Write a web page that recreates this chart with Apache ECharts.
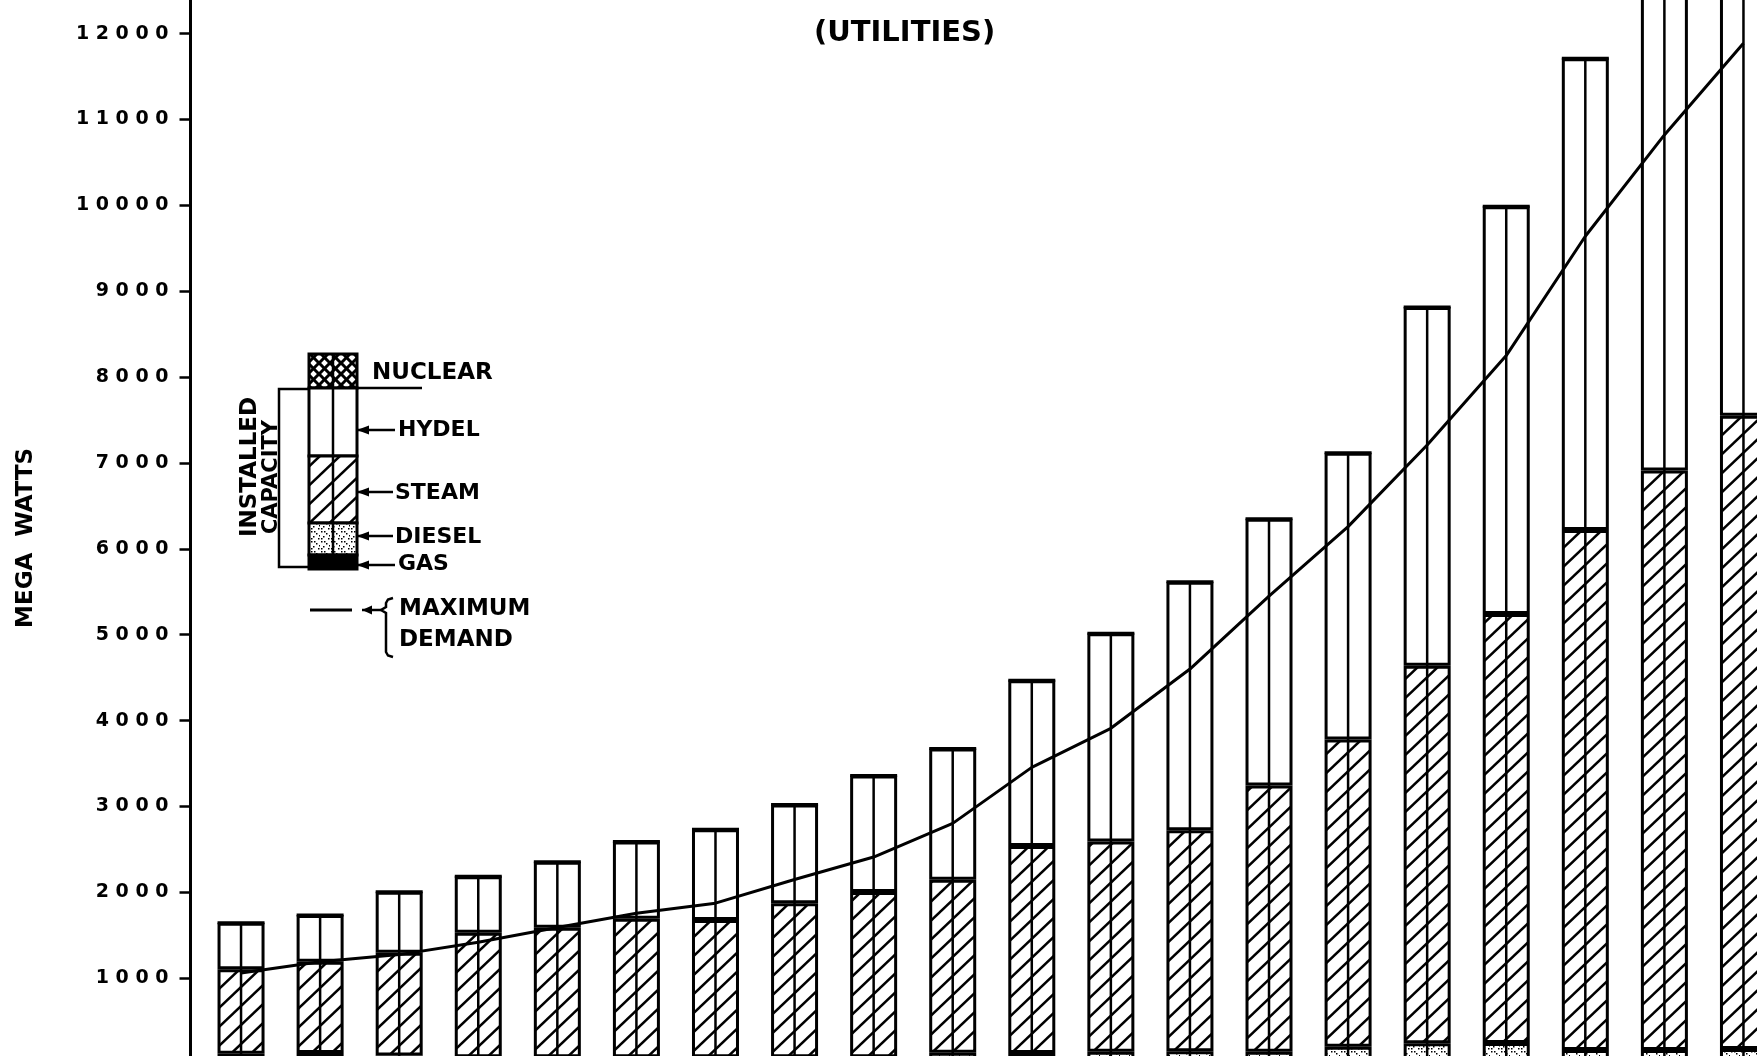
<!DOCTYPE html>
<html>
<head>
<meta charset="utf-8">
<script src="https://cdn.jsdelivr.net/npm/echarts@6/dist/echarts.min.js"></script>
<style>
html,body{margin:0;padding:0;background:#fff;}
#chart{width:1757px;height:1056px;}
</style>
</head>
<body>
<div id="chart"></div>
<script>
// ---------- data (MW) ----------
const categories = ['1950','1951','1952','1953','1954','1955','1956','1957','1958','1959',
                    '1960','1961','1962','1963','1964','1965','1966','1967','1968','1969'];
const gas     = [10, 10, 10, 10, 10, 10, 10, 10, 10, 15, 15, 20, 20, 20, 25, 30, 30, 35, 35, 40];
const diesel  = [110, 120, 90, 70, 70, 70, 70, 70, 70, 117, 114, 124, 130, 124, 178, 212, 216, 129, 129, 135];
const steam   = [984, 1063, 1197, 1450, 1509, 1613, 1598, 1794, 1924, 2016, 2410, 2447, 2572, 3100, 3576, 4398, 4994, 6055, 6747, 7376];
const hydel   = [543, 544, 711, 657, 767, 898, 1057, 1148, 1357, 1526, 1931, 2427, 2896, 3105, 3340, 4175, 4750, 5493, 6489, 6329];
const nuclear = [0, 0, 0, 0, 0, 0, 0, 0, 0, 0, 0, 0, 0, 0, 0, 0, 0, 0, 0, 420];
const maxDemand = [1060, 1193, 1275, 1420, 1590, 1757, 1874, 2150, 2411, 2803, 3455, 3910, 4600, 5450, 6259, 7210, 8250, 9640, 10820, 11888];
const yTickValues = [1000, 2000, 3000, 4000, 5000, 6000, 7000, 8000, 9000, 10000, 11000, 12000];

// ---------- fill patterns ----------
function makeCanvas(w, h) {
  const c = document.createElement('canvas');
  c.width = w; c.height = h;
  const g = c.getContext('2d');
  g.fillStyle = '#fff'; g.fillRect(0, 0, w, h);
  return [c, g];
}
function hatchPattern() {
  const w = 20, h = 19;
  const [c, g] = makeCanvas(w, h);
  g.strokeStyle = '#000'; g.lineWidth = 2.5; g.lineCap = 'square';
  for (const k of [-1, 0, 1]) {
    g.beginPath(); g.moveTo(k * w, h); g.lineTo(k * w + w, 0); g.stroke();
  }
  return c;
}
function dotPattern() {
  const [c, g] = makeCanvas(10, 10);
  g.fillStyle = '#000';
  [[1,1],[6,3],[3,6],[8,8],[4,1],[9,5],[1,8]].forEach(p => { g.fillRect(p[0], p[1], 1.5, 1.5); });
  return c;
}
function crossPattern() {
  const s = 11;
  const [c, g] = makeCanvas(s, s);
  g.strokeStyle = '#000'; g.lineWidth = 3;
  for (const k of [-1, 0, 1]) {
    g.beginPath(); g.moveTo(k * s, s); g.lineTo(k * s + s, 0); g.stroke();
    g.beginPath(); g.moveTo(k * s, 0); g.lineTo(k * s + s, s); g.stroke();
  }
  return c;
}
const HATCH = { image: hatchPattern(), repeat: 'repeat' };
const DOTS  = { image: dotPattern(), repeat: 'repeat' };
const CROSS = { image: crossPattern(), repeat: 'repeat' };

const FONT = 'DejaVu Sans';
const totals = categories.map((c, i) => gas[i] + diesel[i] + steam[i] + hydel[i] + nuclear[i]);

function barSeries(name, data, fill) {
  return {
    name, type: 'bar', stack: 'capacity', data, barWidth: 47,
    itemStyle: { color: fill, borderColor: '#000', borderWidth: 3 },
    emphasis: { disabled: true }, z: 2
  };
}

// ---------- legend drawing (graphic) ----------
const LX = 309, LW = 48;
function legendRect(y, h, fill) {
  return { type: 'rect', shape: { x: LX, y, width: LW, height: h },
           style: { fill, stroke: '#000', lineWidth: 3 } };
}
function arrow(y, x2) {
  return [
    { type: 'line', shape: { x1: 357, y1: y, x2: x2, y2: y }, style: { stroke: '#000', lineWidth: 2.5 } },
    { type: 'polygon', shape: { points: [[357, y], [369, y - 4.5], [369, y + 4.5]] }, style: { fill: '#000' } }
  ];
}
function label(text, x, y, size) {
  return { type: 'text', x, y,
           style: { text, fill: '#000', font: 'bold ' + (size || 22) + 'px "' + FONT + '"',
                    align: 'left', verticalAlign: 'middle' } };
}
const legendElements = [
  legendRect(354, 34, CROSS),
  legendRect(388, 68, '#fff'),
  legendRect(456, 67, HATCH),
  legendRect(523, 32, DOTS),
  legendRect(555, 14, '#000'),
  { type: 'line', shape: { x1: 333, y1: 354, x2: 333, y2: 569 }, style: { stroke: '#000', lineWidth: 2.5 } },
  { type: 'polyline', shape: { points: [[308, 389], [279, 389], [279, 567], [308, 567]] },
    style: { stroke: '#000', lineWidth: 2.5, fill: null } },
  { type: 'text', x: 250, y: 467, rotation: Math.PI / 2,
    style: { text: 'INSTALLED', fill: '#000', font: 'bold 23px "' + FONT + '"', align: 'center', verticalAlign: 'middle' } },
  { type: 'text', x: 272, y: 477, rotation: Math.PI / 2,
    style: { text: 'CAPACITY', fill: '#000', font: 'bold 21px "' + FONT + '"', align: 'center', verticalAlign: 'middle' } },
  { type: 'line', shape: { x1: 357, y1: 388, x2: 422, y2: 388 }, style: { stroke: '#000', lineWidth: 2.5 } },
  label('NUCLEAR', 372, 373, 23),
  ...arrow(430, 395), label('HYDEL', 398, 430),
  ...arrow(492, 393), label('STEAM', 395, 493),
  ...arrow(536, 393), label('DIESEL', 395, 537),
  ...arrow(565, 395), label('GAS', 398, 564),
  { type: 'line', shape: { x1: 310, y1: 610, x2: 352, y2: 610 }, style: { stroke: '#000', lineWidth: 3 } },
  { type: 'line', shape: { x1: 362, y1: 610, x2: 381, y2: 610 }, style: { stroke: '#000', lineWidth: 2.5 } },
  { type: 'polygon', shape: { points: [[362, 610], [372, 605.5], [372, 614.5]] }, style: { fill: '#000' } },
  { type: 'polyline',
    shape: { points: [[393, 598], [388, 599.5], [386, 603], [386, 607], [381, 610], [386, 613], [386, 652], [388, 655.5], [393, 657]] },
    style: { stroke: '#000', lineWidth: 2.5, fill: null } },
  label('MAXIMUM', 399, 609, 23),
  label('DEMAND', 399, 640, 23)
];

// ---------- chart ----------
const chart = echarts.init(document.getElementById('chart'), null, { renderer: 'canvas' });
chart.setOption({
  animation: false,
  backgroundColor: '#fff',
  title: {
    text: '(UTILITIES)', left: 809, top: 14,
    textStyle: { fontFamily: FONT, fontWeight: 'bold', fontSize: 29, color: '#000' }
  },
  grid: { left: 201.5, right: -26, top: -52.3, bottom: -8.1, containLabel: false, outerBoundsMode: 'none' },
  xAxis: {
    type: 'category', data: categories,
    axisLine: { show: false }, axisTick: { show: false }, axisLabel: { show: false }
  },
  yAxis: {
    type: 'value', min: 0, max: 13000, interval: 1000, offset: 11,
    name: 'MEGA  WATTS', nameLocation: 'middle', nameRotate: 90, nameGap: 153,
    nameTextStyle: { fontFamily: FONT, fontWeight: 'bold', fontSize: 23, color: '#000', padding: [0, 64, 0, 0] },
    axisLine: { show: true, lineStyle: { color: '#000', width: 3 } },
    axisTick: { show: true, length: 11, lineStyle: { color: '#000', width: 2.5 } },
    splitLine: { show: false },
    axisLabel: {
      margin: 22, color: '#000', fontFamily: FONT, fontWeight: 'bold', fontSize: 19,
      formatter: v => yTickValues.indexOf(v) >= 0 ? String(v).split('').join(' ') : ''
    }
  },
  series: [
    barSeries('GAS', gas, '#000'),
    barSeries('DIESEL', diesel, DOTS),
    barSeries('STEAM', steam, HATCH),
    barSeries('HYDEL', hydel, '#fff'),
    barSeries('NUCLEAR', nuclear, CROSS),
    {
      name: 'divider', type: 'custom', z: 3, clip: true,
      data: categories.map((c, i) => [i, totals[i]]),
      renderItem: (params, api) => {
        const p0 = api.coord([api.value(0), 0]);
        const p1 = api.coord([api.value(0), api.value(1)]);
        return { type: 'line', shape: { x1: p0[0], y1: p0[1], x2: p1[0], y2: p1[1] },
                 style: { stroke: '#000', lineWidth: 2.5 } };
      }
    },
    {
      name: 'MAXIMUM DEMAND', type: 'line', data: maxDemand, z: 5,
      symbol: 'none', smooth: false,
      lineStyle: { color: '#000', width: 3 }
    }
  ],
  graphic: { elements: legendElements }
});
</script>
</body>
</html>
